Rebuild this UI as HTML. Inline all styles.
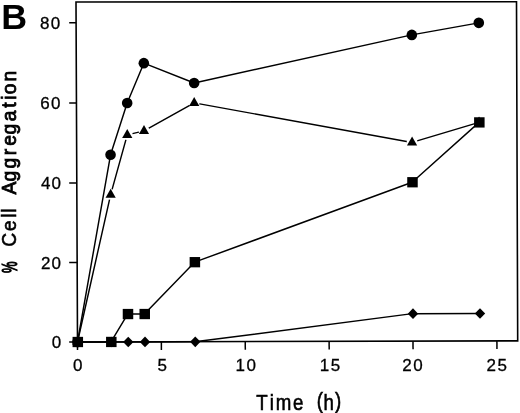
<!DOCTYPE html>
<html><head><meta charset="utf-8"><title>B</title>
<style>
html,body{margin:0;padding:0;background:#fff;}
svg{display:block}
text{font-family:"Liberation Sans",sans-serif;fill:#000}
.t{font-size:17.0px;stroke:#000;stroke-width:0.3px}
.x{stroke:#000;stroke-width:0.6px}
.y{stroke:#000;stroke-width:0.85px}
.b{font-weight:bold}
</style></head><body>
<svg width="520" height="413" viewBox="0 0 520 413">
<rect width="520" height="413" fill="#fff"/>
<polygon points="76,2 516.5,1.75 517.7,340.9 77.5,342" fill="none" stroke="#000" stroke-width="1.6" stroke-linejoin="miter"/>
<line x1="69.2" x2="77.50" y1="342.02" y2="342.00" stroke="#000" stroke-width="1.5"/>
<text transform="translate(51.81,348.10) scale(1.0,1)" x="0.00" class="t">0</text>
<line x1="69.2" x2="77.15" y1="262.52" y2="262.50" stroke="#000" stroke-width="1.5"/>
<text transform="translate(40.95,268.60) scale(1.0,1)" x="0.00 10.65" class="t">20</text>
<line x1="69.2" x2="76.80" y1="182.92" y2="182.90" stroke="#000" stroke-width="1.5"/>
<text transform="translate(40.95,189.00) scale(1.0,1)" x="0.00 10.65" class="t">40</text>
<line x1="69.2" x2="76.44" y1="103.12" y2="103.10" stroke="#000" stroke-width="1.5"/>
<text transform="translate(40.35,109.20) scale(1.0,1)" x="0.00 10.65" class="t">60</text>
<line x1="69.2" x2="76.09" y1="22.82" y2="22.80" stroke="#000" stroke-width="1.5"/>
<text transform="translate(40.05,28.90) scale(1.0,1)" x="0.00 10.65" class="t">80</text>
<line y1="342.00" y2="350.10" x1="77.50" x2="77.53" stroke="#000" stroke-width="1.5"/>
<text transform="translate(73.07,370.50) scale(1.0,1)" x="0.00" class="t">0</text>
<line y1="341.79" y2="349.89" x1="161.38" x2="161.41" stroke="#000" stroke-width="1.5"/>
<text transform="translate(157.44,370.50) scale(1.0,1)" x="0.00" class="t">5</text>
<line y1="341.58" y2="349.68" x1="245.26" x2="245.29" stroke="#000" stroke-width="1.5"/>
<text transform="translate(235.48,370.50) scale(1.0,1)" x="0.00 10.95" class="t">10</text>
<line y1="341.37" y2="349.47" x1="329.14" x2="329.17" stroke="#000" stroke-width="1.5"/>
<text transform="translate(319.70,370.50) scale(1.0,1)" x="0.00 10.95" class="t">15</text>
<line y1="341.16" y2="349.26" x1="413.02" x2="413.05" stroke="#000" stroke-width="1.5"/>
<text transform="translate(402.35,370.50) scale(1.0,1)" x="0.00 10.95" class="t">20</text>
<line y1="340.95" y2="349.05" x1="496.90" x2="496.93" stroke="#000" stroke-width="1.5"/>
<text transform="translate(486.47,370.50) scale(1.0,1)" x="0.00 10.95" class="t">25</text>
<polyline points="77.50,342.00 110.55,154.80 127.18,103.01 143.84,63.16 194.15,83.00 411.82,34.91 478.80,22.86" fill="none" stroke="#000" stroke-width="1.45" stroke-linejoin="round"/>
<polyline points="77.50,342.00 110.65,194.62 127.26,134.86 144.00,130.86 194.20,102.91 412.08,142.42 479.04,122.41" fill="none" stroke="#000" stroke-width="1.45" stroke-linejoin="round"/>
<polyline points="77.50,342.00 111.01,341.95 127.69,314.05 144.44,314.03 194.58,262.19 412.18,182.24 479.04,122.41" fill="none" stroke="#000" stroke-width="1.45" stroke-linejoin="round"/>
<polyline points="77.50,342.00 111.01,341.95 127.76,341.93 144.51,341.90 194.77,341.83 412.49,313.65 479.50,313.55" fill="none" stroke="#000" stroke-width="1.45" stroke-linejoin="round"/>
<polygon points="72.40,345.10 82.60,345.10 77.50,336.10" fill="#000"/>
<circle cx="110.65" cy="194.32" r="5.4" fill="#fff"/>
<polygon points="105.55,197.72 115.75,197.72 110.65,188.72" fill="#000"/>
<circle cx="127.26" cy="134.56" r="5.4" fill="#fff"/>
<polygon points="122.16,137.96 132.36,137.96 127.26,128.96" fill="#000"/>
<circle cx="144.00" cy="130.56" r="5.4" fill="#fff"/>
<polygon points="138.90,133.96 149.10,133.96 144.00,124.96" fill="#000"/>
<circle cx="194.20" cy="102.61" r="5.4" fill="#fff"/>
<polygon points="189.10,106.01 199.30,106.01 194.20,97.01" fill="#000"/>
<circle cx="412.08" cy="142.12" r="5.4" fill="#fff"/>
<polygon points="406.98,145.52 417.18,145.52 412.08,136.52" fill="#000"/>
<polygon points="473.94,125.51 484.14,125.51 479.04,116.51" fill="#000"/>
<polygon points="72.80,342.00 78.00,336.70 83.20,342.00 78.00,347.30" fill="#000"/>
<polygon points="106.31,341.95 111.51,336.65 116.71,341.95 111.51,347.25" fill="#000"/>
<polygon points="123.06,341.93 128.26,336.63 133.46,341.93 128.26,347.23" fill="#000"/>
<polygon points="139.81,341.90 145.01,336.60 150.21,341.90 145.01,347.20" fill="#000"/>
<polygon points="190.07,341.83 195.27,336.53 200.47,341.83 195.27,347.13" fill="#000"/>
<polygon points="407.79,313.65 412.99,308.35 418.19,313.65 412.99,318.95" fill="#000"/>
<polygon points="474.80,313.55 480.00,308.25 485.20,313.55 480.00,318.85" fill="#000"/>
<rect x="72.55" y="336.85" width="10.5" height="10.3" fill="#000"/>
<rect x="106.06" y="336.80" width="10.5" height="10.3" fill="#000"/>
<rect x="122.74" y="308.90" width="10.5" height="10.3" fill="#000"/>
<rect x="139.49" y="308.88" width="10.5" height="10.3" fill="#000"/>
<rect x="189.63" y="257.04" width="10.5" height="10.3" fill="#000"/>
<rect x="407.23" y="177.09" width="10.5" height="10.3" fill="#000"/>
<rect x="474.09" y="117.26" width="10.5" height="10.3" fill="#000"/>
<circle cx="77.50" cy="342.00" r="5.3" fill="#000"/>
<circle cx="110.55" cy="154.80" r="5.3" fill="#000"/>
<circle cx="127.18" cy="103.01" r="5.3" fill="#000"/>
<circle cx="143.84" cy="63.16" r="5.3" fill="#000"/>
<circle cx="194.15" cy="83.00" r="5.3" fill="#000"/>
<circle cx="411.82" cy="34.91" r="5.3" fill="#000"/>
<circle cx="478.80" cy="22.86" r="5.3" fill="#000"/>
<text x="1.31" y="28.9" class="b" style="font-size:35.8px">B</text>
<text transform="scale(0.865,1)" x="296.28 311.73 318.80 338.74 350.75 366.17 373.88 387.39" y="409.60 409.60 409.60 409.60 409.60 408.00 409.60 408.00" class="x" style="font-size:21.6px">Time (h)</text>
<text transform="translate(16.2,0) rotate(-90) scale(0.93,1)" x="-265.33 -248.38 -234.27 -228.79" class="y" style="font-size:20.7px;stroke-width:0.6px">Cell</text>
<text transform="translate(16.2,0) rotate(-90) scale(0.93,1)" x="-209.26 -195.04 -181.06 -166.83 -156.77 -144.50 -130.42 -115.77 -107.27 -101.27 -87.69" class="y" style="font-size:20.7px">Aggregation</text>
<text transform="translate(16.9,0) rotate(-90) translate(-273.06,0) scale(0.626,1.05)" class="y" style="font-size:20.7px;stroke:#000;stroke-width:1.1px">%</text>
</svg>
</body></html>
